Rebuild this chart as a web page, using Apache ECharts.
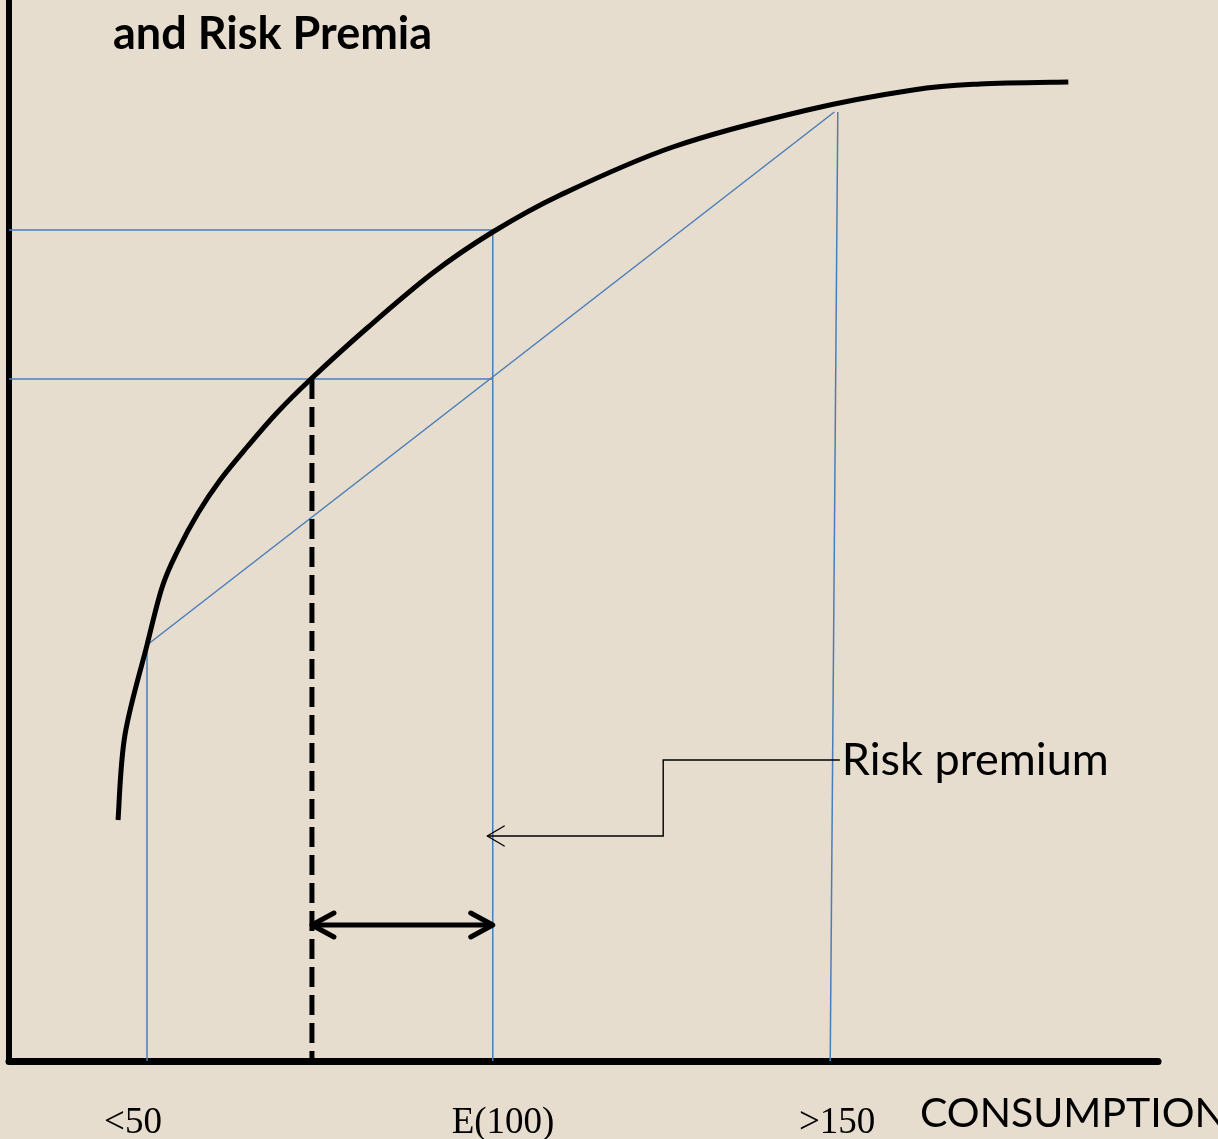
<!DOCTYPE html>
<html><head><meta charset="utf-8">
<style>html,body{margin:0;padding:0;background:#e6ddcf;} #c{width:1218px;height:1139px;}</style>
<script src="https://cdn.jsdelivr.net/npm/echarts@6/dist/echarts.min.js"></script>
</head><body><div id="c"></div>
<script>
// ---- data (consumption units on x, utility units on y) ----
const titleText = 'and Risk Premia';
const axisName = 'CONSUMPTION';
const tickValues = [50, 100, 150];
const tickLabels = ['<50', 'E(100)', '>150'];
const utilityCurve = [
  [45.8,24.1],[46.8,32.6],[50.0,41.6],[52.2,47.4],[54.5,51.1],[57.4,54.8],
  [60.6,58.1],[64.5,61.4],[68.8,64.8],[73.6,68.1],[81.9,73.3],[91.4,78.8],
  [100.1,82.9],[109.9,86.6],[126.2,91.4],[145.7,95.1],[161.0,97.1],[170.7,97.7],[183.5,97.9]
];
const riskChord = [[50,41.6],[149.6,94.9]];
const levelUpper = [[30,83.1],[100.1,83.1]];
const levelLower = [[30,68.2],[100.1,68.2]];
const dropEC = [[100.1,83.1],[100.1,0]];
const drop50 = [[50,41.6],[50,0]];
const drop150 = [[150.1,94.9],[149.0,0]];
const certaintyEquiv = [[73.9,68.2],[73.9,0]];
const premiumArrow = [[73.9,13.6],[100.1,13.6]];
const calloutPath = [[150.4,30.1],[124.8,30.1],[124.8,22.5],[99.3,22.5]];
const calloutText = 'Risk premium';

const BLUE = '#4a7ebb';
const chart = echarts.init(document.getElementById('c'), null, {renderer:'canvas'});

function chevron(tip, from, L, W) {
  const dx = tip[0]-from[0], dy = tip[1]-from[1];
  const len = Math.hypot(dx,dy) || 1;
  const ux = dx/len, uy = dy/len, nx = -uy, ny = ux;
  return [[tip[0]-L*ux+W*nx, tip[1]-L*uy+W*ny], tip, [tip[0]-L*ux-W*nx, tip[1]-L*uy-W*ny]];
}
function arrowRenderer(path, opts) {
  return function(params, api) {
    const pts = path.map(p => api.coord(p));
    const style = {stroke:'#000', lineWidth:opts.w, fill:null, lineJoin:'miter', lineCap:'butt'};
    const children = [{type:'polyline', shape:{points:pts}, style:style}];
    if (opts.end) children.push({type:'polyline', shape:{points:chevron(pts[pts.length-1], pts[pts.length-2], opts.L, opts.W)}, style:Object.assign({}, style, {lineCap:'round', lineJoin:'round'})});
    if (opts.start) children.push({type:'polyline', shape:{points:chevron(pts[0], pts[1], opts.L, opts.W)}, style:Object.assign({}, style, {lineCap:'round', lineJoin:'round'})});
    return {type:'group', children:children};
  };
}
// smooth Catmull-Rom curve through the data points (in pixel space from the axes)
function curveRenderer(params, api) {
  if (params.dataIndex !== 0) return null;
  const p = utilityCurve.map(d => api.coord(d));
  let d = 'M' + p[0][0] + ' ' + p[0][1];
  for (let i = 0; i < p.length - 1; i++) {
    const p0 = p[i-1] || p[i], p1 = p[i], p2 = p[i+1], p3 = p[i+2] || p[i+1];
    const c1 = [p1[0] + (p2[0]-p0[0])/6, p1[1] + (p2[1]-p0[1])/6];
    const c2 = [p2[0] - (p3[0]-p1[0])/6, p2[1] - (p3[1]-p1[1])/6];
    d += ' C' + c1[0] + ' ' + c1[1] + ' ' + c2[0] + ' ' + c2[1] + ' ' + p2[0] + ' ' + p2[1];
  }
  return {type:'path', shape:{pathData:d}, style:{stroke:'#000', lineWidth:5, fill:null, lineCap:'butt', lineJoin:'round'}};
}
function seg(name, data, style) {
  return {type:'line', name:name, data:data, symbol:'none', silent:true, lineStyle:style, z:3};
}

chart.setOption({
  animation:false,
  backgroundColor:'#e6ddcf',
  title:[
    {text:titleText, left:113, top:12, padding:0,
     textStyle:{fontFamily:'Lato', fontWeight:'bold', fontSize:45, color:'#000'}},
    {text:axisName, left:920, top:1093, padding:0,
     textStyle:{fontFamily:'Lato', fontWeight:'normal', fontSize:41, color:'#000'}}
  ],
  grid:{left:9, top:1, width:1149, height:1060, containLabel:false, outerBoundsMode:'none'},
  xAxis:{type:'value', min:30, max:196.5,
    axisLine:{show:true, onZero:false, lineStyle:{color:'#000', width:7}},
    axisTick:{show:false}, splitLine:{show:false},
    axisLabel:{customValues:tickValues, margin:44, fontFamily:'Liberation Serif', fontSize:37, color:'#000',
      formatter:function(v){ const i = tickValues.indexOf(v); return '{t'+i+'|'+tickLabels[i]+'}'; },
      rich:{t0:{padding:[0,28,0,0], fontFamily:'Liberation Serif', fontSize:37, color:'#000'},
            t1:{padding:[0,0,0,22], fontFamily:'Liberation Serif', fontSize:37, color:'#000'},
            t2:{padding:[0,0,0,0], fontFamily:'Liberation Serif', fontSize:37, color:'#000'}}}
  },
  yAxis:{type:'value', min:0, max:106,
    axisLine:{show:true, onZero:false, lineStyle:{color:'#000', width:6}},
    axisTick:{show:false}, splitLine:{show:false}, axisLabel:{show:false}
  },
  series:[
    seg('levelUpper', levelUpper, {color:BLUE, width:1.5}),
    seg('levelLower', levelLower, {color:BLUE, width:1.5}),
    seg('dropEC', dropEC, {color:BLUE, width:1.5}),
    seg('drop50', drop50, {color:BLUE, width:1.5}),
    seg('drop150', drop150, {color:BLUE, width:1.5}),
    seg('riskChord', riskChord, {color:BLUE, width:1.5}),
    seg('certaintyEquiv', certaintyEquiv, {color:'#000', width:5, type:[20,8]}),
    {type:'custom', name:'utility', data:utilityCurve, silent:true, z:4, clip:false,
     renderItem:curveRenderer},
    {type:'custom', name:'premiumArrow', data:[premiumArrow[0]], silent:true, z:5,
     renderItem:arrowRenderer(premiumArrow, {w:5, L:22, W:12, start:true, end:true})},
    {type:'custom', name:'callout', data:[calloutPath[0]], silent:true, z:5,
     renderItem:arrowRenderer(calloutPath, {w:1.4, L:17, W:10, end:true})},
    {type:'scatter', name:'calloutLabel', data:[calloutPath[0]], symbolSize:0, silent:true,
     itemStyle:{opacity:1},
     label:{show:true, position:'right', distance:2, formatter:calloutText,
       fontFamily:'Lato', fontSize:45, color:'#000', opacity:1}}
  ]
});
</script></body></html>
